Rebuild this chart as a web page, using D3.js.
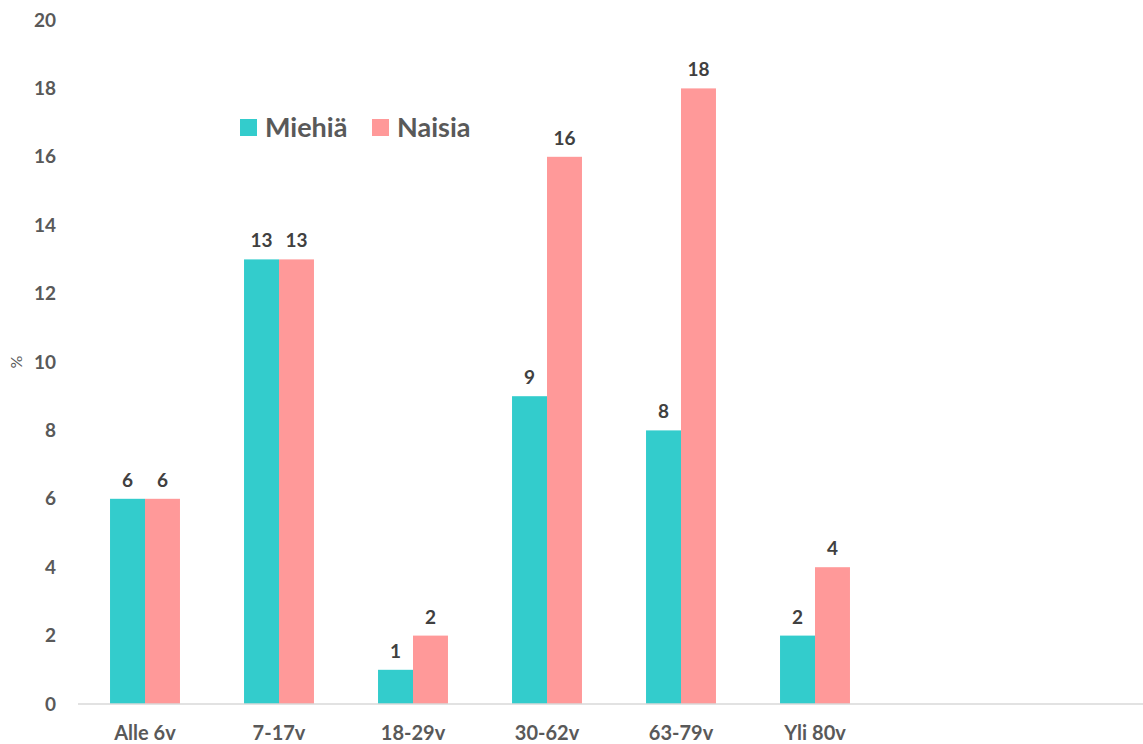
<!DOCTYPE html>
<html>
<head>
<meta charset="utf-8">
<script src="https://cdn.jsdelivr.net/npm/d3@7"></script>
<style>
  body { margin: 0; background: #fff; }
  text { font-family: Lato, "Open Sans", sans-serif; font-weight: bold; }
</style>
</head>
<body>
<div id="viz"></div>
<script>
const categories = ["Alle 6v", "7-17v", "18-29v", "30-62v", "63-79v", "Yli 80v"];
const seriesNames = ["Miehiä", "Naisia"];
const miehia = [6, 13, 1, 9, 8, 2];
const naisia = [6, 13, 2, 16, 18, 4];
const yTicks = [0, 2, 4, 6, 8, 10, 12, 14, 16, 18, 20];

const width = 1143;
const height = 744;
const colors = ["#33CCCC", "#FF9999"];

const svg = d3.select("#viz").append("svg")
    .attr("width", width)
    .attr("height", height);

const y = d3.scaleLinear()
    .domain([0, 20])
    .range([704, 20]);

const x = d3.scaleBand()
    .domain(categories)
    .range([78, 882])
    .paddingInner(0.478)
    .paddingOuter(0.239);

const xs = d3.scaleBand()
    .domain(seriesNames)
    .range([0, x.bandwidth()]);

// y tick labels (no axis line)
svg.append("g")
    .selectAll("text")
    .data(yTicks)
    .enter()
    .append("text")
    .attr("x", 56)
    .attr("y", d => y(d))
    .attr("dy", "0.35em")
    .attr("text-anchor", "end")
    .attr("font-size", "19px")
    .attr("fill", "#595959")
    .text(d => d);

svg.append("text")
    .attr("transform", "translate(22," + y(10) + ") rotate(-90)")
    .attr("text-anchor", "middle")
    .attr("font-size", "16px")
    .attr("fill", "#595959")
    .style("font-weight", "normal")
    .text("%");

const rows = categories.map((c, i) => ({ cat: c, values: [miehia[i], naisia[i]] }));

const groups = svg.selectAll(".grp")
    .data(rows)
    .enter()
    .append("g")
    .attr("transform", d => "translate(" + x(d.cat) + ",0)");

groups.selectAll("rect")
    .data(d => d.values.map((v, j) => ({ name: seriesNames[j], v: v, j: j })))
    .enter()
    .append("rect")
    .attr("x", d => xs(d.name))
    .attr("y", d => y(d.v))
    .attr("width", xs.bandwidth())
    .attr("height", d => y(0) - y(d.v))
    .attr("fill", d => colors[d.j]);

groups.selectAll(".lbl")
    .data(d => d.values.map((v, j) => ({ name: seriesNames[j], v: v })))
    .enter()
    .append("text")
    .attr("x", d => xs(d.name) + xs.bandwidth() / 2)
    .attr("y", d => y(d.v) - 12)
    .attr("text-anchor", "middle")
    .attr("font-size", "19px")
    .attr("fill", "#404040")
    .text(d => d.v);

// baseline
svg.append("line")
    .attr("x1", 78)
    .attr("x2", width)
    .attr("y1", y(0))
    .attr("y2", y(0))
    .attr("stroke", "#d9d9d9")
    .attr("stroke-width", 1.5);

svg.append("g")
    .selectAll("text")
    .data(categories)
    .enter()
    .append("text")
    .attr("x", d => x(d) + x.bandwidth() / 2)
    .attr("y", 733)
    .attr("dy", "0.35em")
    .attr("text-anchor", "middle")
    .attr("font-size", "20px")
    .attr("fill", "#595959")
    .text(d => d);

// legend
const legendX = [240, 372];
const legend = svg.selectAll(".leg")
    .data(seriesNames)
    .enter()
    .append("g")
    .attr("transform", (d, i) => "translate(" + legendX[i] + ",119)");

legend.append("rect")
    .attr("width", 17)
    .attr("height", 17)
    .attr("fill", (d, i) => colors[i]);

legend.append("text")
    .attr("x", 25)
    .attr("y", 9)
    .attr("dy", "0.35em")
    .attr("font-size", "27px")
    .attr("fill", "#595959")
    .text(d => d);
</script>
</body>
</html>
